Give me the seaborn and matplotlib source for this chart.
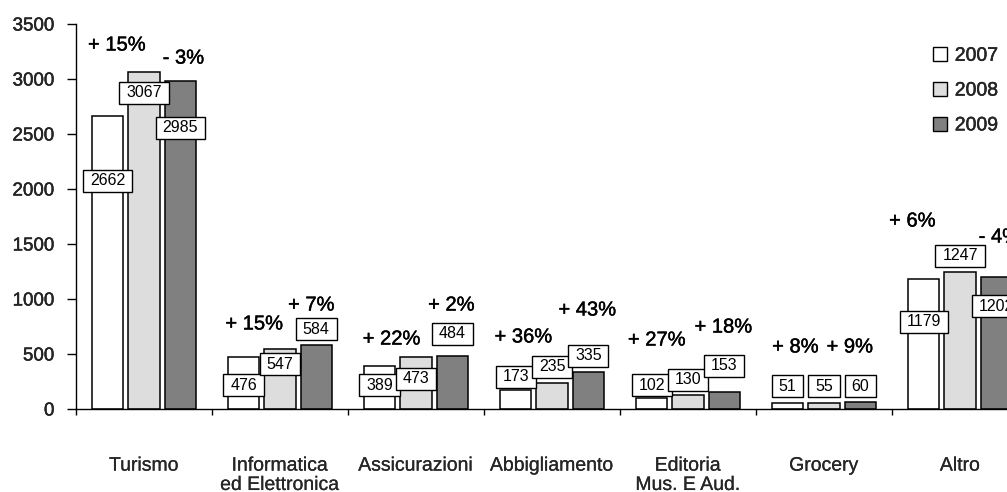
import matplotlib
matplotlib.use("Agg")
import matplotlib.pyplot as plt
import matplotlib.patheffects as pe
from matplotlib.path import Path
from matplotlib.patches import Patch
import pandas as pd
import seaborn as sns

categories = ["Turismo", "Informatica\ned Elettronica", "Assicurazioni",
              "Abbigliamento", "Editoria\nMus. E Aud.", "Grocery", "Altro"]
years = ["2007", "2008", "2009"]
values_2007 = [2662, 476, 389, 173, 102, 51, 1179]
values_2008 = [3067, 547, 473, 235, 130, 55, 1247]
values_2009 = [2985, 584, 484, 335, 153, 60, 1202]
y_ticks = [0, 500, 1000, 1500, 2000, 2500, 3000, 3500]

# vertical placement of the boxed value labels (data units)
box_y_2007 = [2073, 218, 218, 291, 218, 209, 791]
box_y_2008 = [2873, 409, 273, 382, 264, 209, 1391]
box_y_2009 = [2555, 727, 682, 482, 391, 209, 936]

# growth labels: horizontal offset from the category centre, height in data units
growth1_dx = [-0.20, -0.19, -0.18, -0.21, -0.23, -0.21, -0.35]
growth1_y = [3309, 773, 636, 655, 627, 564, 1709]
growth2_dx = [0.29, 0.23, 0.26, 0.26, 0.26, 0.19, 0.29]
growth2_y = [3190, 945, 945, 900, 745, 564, 1564]

colors = {"2007": "#FFFFFF", "2008": "#DDDDDD", "2009": "#808080"}

sns.set_theme(style="white")
plt.rcParams["font.family"] = ["Liberation Sans", "DejaVu Sans"]
# slightly heavier glyph strokes for numbers and percentages
heavy = [pe.withStroke(linewidth=0.3, foreground="black")]
medium = [pe.withStroke(linewidth=0.12, foreground="black")]

series = {"2007": values_2007, "2008": values_2008, "2009": values_2009}
df = pd.DataFrame([
    {"categoria": c, "anno": y, "valore": v}
    for y in years for c, v in zip(categories, series[y])
])

fig = plt.figure(figsize=(10.07, 4.92), dpi=100)
ax = fig.add_axes([76 / 1007, 83 / 492, 952 / 1007, 385 / 492])

sns.barplot(data=df, x="categoria", y="valore", hue="anno", order=categories,
            hue_order=years, palette=colors, width=0.8, gap=0.145,
            edgecolor="black", linewidth=1.1, saturation=1, legend=False, ax=ax)

ax.set_xlim(-0.5, len(categories) - 0.5)
ax.set_ylim(0, 3500)
ax.set_xlabel("")
ax.set_ylabel("")
for side in ("top", "right"):
    ax.spines[side].set_visible(False)
for side in ("left", "bottom"):
    ax.spines[side].set_color("black")
    ax.spines[side].set_linewidth(1.0)

ax.set_yticks(y_ticks)
ax.set_yticklabels([str(t) for t in y_ticks])
ax.tick_params(axis="y", direction="out", length=6.5, width=1, color="black",
               pad=9, labelsize=13.5, left=True)
ax.set_xticks(range(len(categories)))
ax.set_xticklabels(categories, fontsize=14, linespacing=1.18)
ax.tick_params(axis="x", which="major", length=0, pad=35)
ax.set_xticks([i - 0.5 for i in range(len(categories) + 1)], minor=True)
ax.tick_params(axis="x", which="minor", direction="out", length=4.5, width=1,
               color="black", bottom=True)
for lab in ax.get_yticklabels():
    lab.set_path_effects(heavy)
for lab in ax.get_xticklabels():
    lab.set_path_effects(medium)


def label_box(x0, y0, width, height, mutation_size):
    px = 0.43 * mutation_size
    py = 0.24 * mutation_size
    x0, y0 = x0 - px, y0 - py
    x1, y1 = x0 + width + 2 * px, y0 + height + 2 * py
    return Path([(x0, y0), (x1, y0), (x1, y1), (x0, y1), (x0, y0)], closed=True)


box_y = {"2007": box_y_2007, "2008": box_y_2008, "2009": box_y_2009}
for year, container in zip(years, ax.containers):
    for bar, val, yy in zip(container.patches, series[year], box_y[year]):
        xc = bar.get_x() + bar.get_width() / 2
        ax.text(xc, yy, str(val), ha="center", va="center", fontsize=11.5,
                color="black", clip_on=False,
                bbox=dict(boxstyle=label_box, fc="white", ec="black", lw=1.0))


def growth_text(a, b):
    p = round((b / a - 1) * 100)
    return f"+ {p}%" if p >= 0 else f"- {abs(p)}%"


for i in range(len(categories)):
    for dx, yy, a, b in ((growth1_dx[i], growth1_y[i], values_2007[i], values_2008[i]),
                         (growth2_dx[i], growth2_y[i], values_2008[i], values_2009[i])):
        ax.text(i + dx, yy, growth_text(a, b), ha="center", va="center",
                fontsize=14.5, color="black", clip_on=False, path_effects=heavy)

handles = [Patch(facecolor=colors[y], edgecolor="black", linewidth=1.0) for y in years]
leg = fig.legend(handles, years, loc="upper left",
                 bbox_to_anchor=(933 / 1007, 1 - 47 / 492),
                 bbox_transform=fig.transFigure, frameon=False, fontsize=14,
                 handlelength=0.72, handleheight=0.72, handletextpad=0.4,
                 labelspacing=0.88, borderpad=0, borderaxespad=0)
for t in leg.get_texts():
    t.set_path_effects(heavy)

fig.savefig("out.png", dpi=100, facecolor="white")
